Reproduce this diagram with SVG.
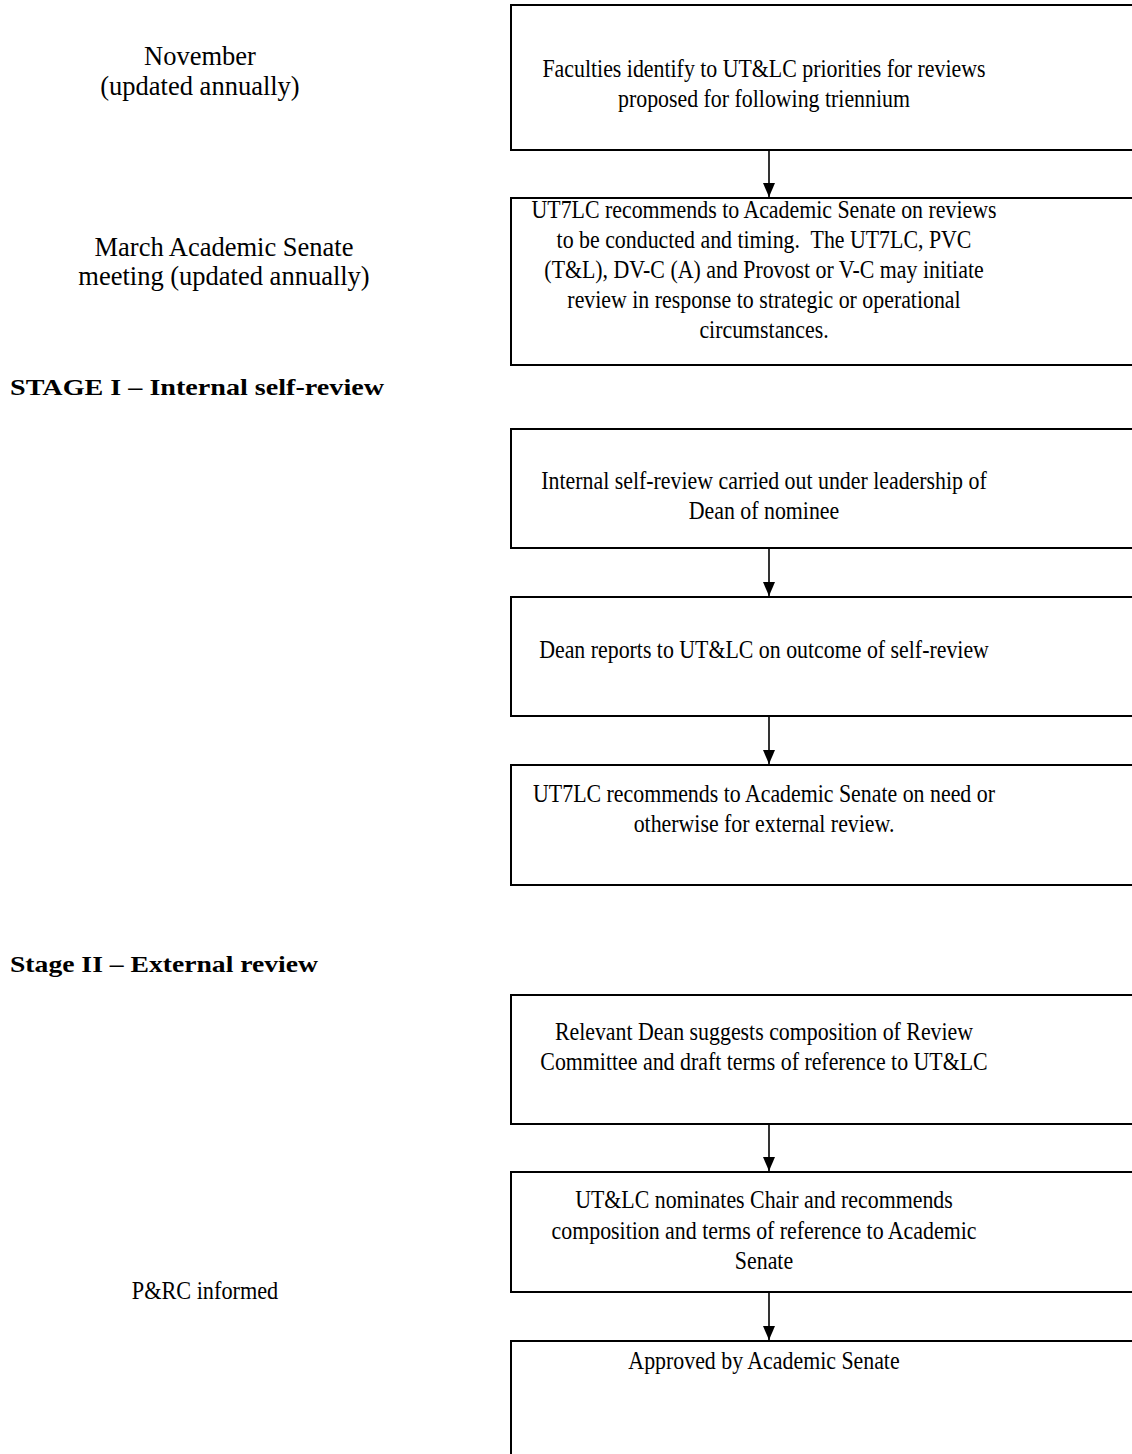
<svg xmlns="http://www.w3.org/2000/svg" width="1132" height="1454" viewBox="0 0 1132 1454">
<style>
.box{fill:#fff;stroke:#000;stroke-width:2}
.bt{font-family:"Liberation Serif","Times New Roman",serif;font-size:25px;fill:#000;text-anchor:middle}
.lt{font-family:"Liberation Serif","Times New Roman",serif;font-size:26.5px;fill:#000;text-anchor:middle}
.hd{font-family:"Liberation Serif","Times New Roman",serif;font-size:24px;font-weight:bold;fill:#000}
.conn{stroke:#000;stroke-width:1.6;fill:none}
</style>
<defs>
<marker id="arr" markerWidth="14" markerHeight="12" refX="14" refY="6" orient="auto" markerUnits="userSpaceOnUse" viewBox="0 0 14 12">
<path d="M0,0 L14,6 L0,12 Z" fill="#000"/>
</marker>
</defs>

<g id="labels">
<text class="lt" x="200" y="65">November</text>
<text class="lt" x="200" y="95">(updated annually)</text>
<text class="lt" x="224" y="256">March Academic Senate</text>
<text class="lt" x="224" y="285">meeting (updated annually)</text>
<text class="hd" x="10" y="395" textLength="374" lengthAdjust="spacingAndGlyphs">STAGE I – Internal self-review</text>
<text class="hd" x="10" y="972" textLength="308" lengthAdjust="spacingAndGlyphs">Stage II – External review</text>
<text class="bt" transform="translate(205 0) scale(0.89 1)" x="0" y="1299">P&amp;RC informed</text>
</g>

<g id="n1">
<rect class="box" x="511" y="5" width="640" height="145"/>
<text class="bt" transform="translate(764 0) scale(0.875 1)"><tspan x="0" y="77">Faculties identify to UT&amp;LC priorities for reviews</tspan><tspan x="0" y="107">proposed for following triennium</tspan></text>
</g>
<g id="n2">
<rect class="box" x="511" y="198" width="640" height="167"/>
<text class="bt" transform="translate(764 0) scale(0.875 1)"><tspan x="0" y="218">UT7LC recommends to Academic Senate on reviews</tspan><tspan x="0" y="248">to be conducted and timing.&#160; The UT7LC, PVC</tspan><tspan x="0" y="278">(T&amp;L), DV-C (A) and Provost or V-C may initiate</tspan><tspan x="0" y="308">review in response to strategic or operational</tspan><tspan x="0" y="338">circumstances.</tspan></text>
</g>
<g id="n3">
<rect class="box" x="511" y="429" width="640" height="119"/>
<text class="bt" transform="translate(764 0) scale(0.875 1)"><tspan x="0" y="489">Internal self-review carried out under leadership of</tspan><tspan x="0" y="519">Dean of nominee</tspan></text>
</g>
<g id="n4">
<rect class="box" x="511" y="597" width="640" height="119"/>
<text class="bt" transform="translate(764 0) scale(0.875 1)"><tspan x="0" y="658">Dean reports to UT&amp;LC on outcome of self-review</tspan></text>
</g>
<g id="n5">
<rect class="box" x="511" y="765" width="640" height="120"/>
<text class="bt" transform="translate(764 0) scale(0.875 1)"><tspan x="0" y="802">UT7LC recommends to Academic Senate on need or</tspan><tspan x="0" y="832">otherwise for external review.</tspan></text>
</g>
<g id="n6">
<rect class="box" x="511" y="995" width="640" height="129"/>
<text class="bt" transform="translate(764 0) scale(0.875 1)"><tspan x="0" y="1040">Relevant Dean suggests composition of Review</tspan><tspan x="0" y="1070">Committee and draft terms of reference to UT&amp;LC</tspan></text>
</g>
<g id="n7">
<rect class="box" x="511" y="1172" width="640" height="120"/>
<text class="bt" transform="translate(764 0) scale(0.875 1)"><tspan x="0" y="1208">UT&amp;LC nominates Chair and recommends</tspan><tspan x="0" y="1239">composition and terms of reference to Academic</tspan><tspan x="0" y="1269">Senate</tspan></text>
</g>
<g id="n8">
<rect class="box" x="511" y="1341" width="640" height="130"/>
<text class="bt" transform="translate(764 0) scale(0.875 1)"><tspan x="0" y="1369">Approved by Academic Senate</tspan></text>
</g>

<g id="connectors">
<line class="conn" x1="769" y1="150" x2="769" y2="197" marker-end="url(#arr)"/>
<line class="conn" x1="769" y1="548" x2="769" y2="596" marker-end="url(#arr)"/>
<line class="conn" x1="769" y1="716" x2="769" y2="764" marker-end="url(#arr)"/>
<line class="conn" x1="769" y1="1124" x2="769" y2="1171" marker-end="url(#arr)"/>
<line class="conn" x1="769" y1="1292" x2="769" y2="1340" marker-end="url(#arr)"/>
</g>
</svg>
